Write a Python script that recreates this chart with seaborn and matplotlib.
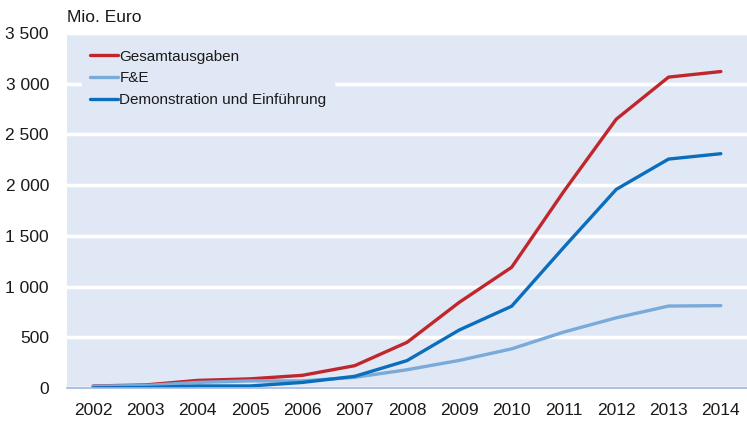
import pandas as pd
import matplotlib.pyplot as plt
import matplotlib.ticker as mticker
import seaborn as sns

# Werte in Mio. Euro
jahre = [2002, 2003, 2004, 2005, 2006, 2007, 2008, 2009, 2010, 2011, 2012, 2013, 2014]
gesamt = [20, 30, 75, 90, 125, 220, 450, 845, 1190, 1940, 2650, 3065, 3120]
fue = [18, 25, 55, 70, 70, 105, 180, 272, 386, 552, 692, 808, 812]
demo = [2, 5, 20, 20, 55, 115, 270, 572, 806, 1388, 1958, 2257, 2310]

serien = ['Gesamtausgaben', 'F&E', 'Demonstration und Einführung']
farben = ['#C0272D', '#7AAAD9', '#0B6EBC']

df = pd.DataFrame({
    'Jahr': jahre * 3,
    'Wert': gesamt + fue + demo,
    'Serie': [serien[0]] * 13 + [serien[1]] * 13 + [serien[2]] * 13,
})

sns.set_style('white')
plt.rcParams['font.family'] = ['Liberation Sans', 'DejaVu Sans']

fig = plt.figure(figsize=(7.47, 4.23), dpi=100)
ax = fig.add_axes([67 / 747, 1 - 388 / 423, 680 / 747, 355 / 423])
bg = '#E1E8F5'
ax.set_facecolor(bg)

sns.lineplot(data=df, x='Jahr', y='Wert', hue='Serie', hue_order=serien,
             palette=farben, linewidth=2.4, ax=ax, legend=True)

ax.set_xlim(2001.5, 2014.5)
ax.set_ylim(0, 3500)
ax.set_xticks(jahre)
ax.set_xticks([j + 0.5 for j in [2001] + jahre], minor=True)
ax.yaxis.set_major_locator(mticker.MultipleLocator(500))
ax.yaxis.set_major_formatter(mticker.FuncFormatter(lambda v, p: f'{int(v):,}'.replace(',', ' ')))
ax.grid(axis='y', color='white', linewidth=2.5)
ax.set_axisbelow(True)
ax.set_xlabel('')
ax.set_ylabel('')

for s in ['top', 'right', 'left']:
    ax.spines[s].set_visible(False)
ax.spines['bottom'].set_color('#9DB6E0')
ax.spines['bottom'].set_linewidth(1.2)

ax.tick_params(axis='x', which='major', length=0, pad=11, labelsize=12.5, colors='#1a1a1a')
ax.tick_params(axis='x', which='minor', length=5, width=1, color='#9DB6E0', direction='out')
ax.tick_params(axis='y', length=0, pad=13, labelsize=12.5, colors='#1a1a1a')

leg = ax.legend(loc='upper left', bbox_to_anchor=(0.022, 0.975), frameon=True,
                fontsize=11, handlelength=1.85, handletextpad=0.1,
                labelspacing=0.52, borderpad=0.5, borderaxespad=0)
leg.get_frame().set_facecolor(bg)
leg.get_frame().set_edgecolor(bg)
leg.get_frame().set_alpha(1)
leg.get_frame().set_boxstyle('square', pad=0.0)
for t in leg.get_texts():
    t.set_color('#1a1a1a')

fig.text(67 / 747, 1 - 18 / 423, 'Mio. Euro', fontsize=12.5, color='#1a1a1a',
         ha='left', va='center')

fig.savefig('out.png', dpi=100)
